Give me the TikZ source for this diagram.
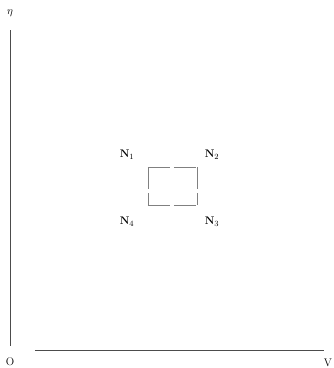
\documentclass[tikz,border=0pt]{standalone}
\begin{document}
\begin{tikzpicture}[x=1pt,y=-1pt,
  axis/.style={draw=black!70, line width=0.6pt},
  sq/.style={draw=black!50, line width=0.5pt, dash pattern=on 22pt off 4pt},
  lab/.style={inner sep=0pt, font=\fontsize{11}{12}\selectfont}]
\useasboundingbox (0,0) rectangle (334,368);
\node[lab] (eta) at (10,13) {$\eta$};
\coordinate (top) at (10,30);
\coordinate (o) at (10,346);
\node[lab] (O) at (10,362) {O};
\coordinate (hs) at (35,350);
\coordinate (he) at (324,350);
\node[lab] (V) at (328,363) {V};
\draw[axis] (top) -- (o);
\draw[axis, line width=0.5pt] (hs) -- (he);
\coordinate (a) at (148,167);
\coordinate (b) at (197,167);
\coordinate (c) at (197,205);
\coordinate (d) at (148,205);
\draw[sq] (a) -- (b) (b) -- (c) (d) -- (c) (a) -- (d);
\node[lab] (N1) at (127,155) {\textbf{N}$_1$};
\node[lab] (N2) at (212,155) {\textbf{N}$_2$};
\node[lab] (N3) at (212,222) {\textbf{N}$_3$};
\node[lab] (N4) at (127,222) {\textbf{N}$_4$};
\end{tikzpicture}
\end{document}
